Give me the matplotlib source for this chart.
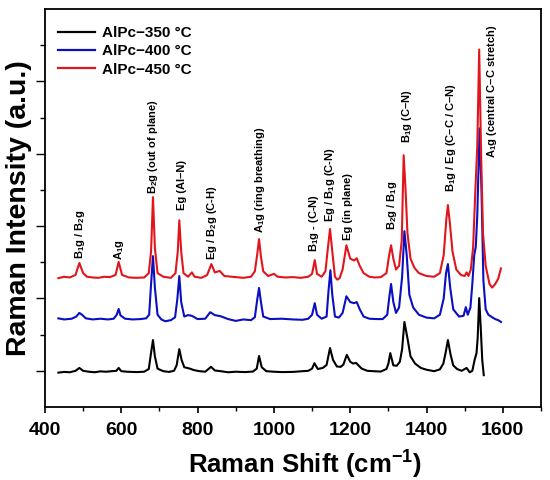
import matplotlib
matplotlib.use("Agg")
import matplotlib.pyplot as plt
from matplotlib.ticker import MultipleLocator, FixedLocator

plt.rcParams['font.family'] = ['Liberation Sans', 'DejaVu Sans']
plt.rcParams['font.weight'] = 'bold'
plt.rcParams['mathtext.fontset'] = 'custom'
plt.rcParams['mathtext.rm'] = 'Liberation Sans:bold'
plt.rcParams['mathtext.bf'] = 'Liberation Sans:bold'
plt.rcParams['mathtext.it'] = 'Liberation Sans:bold'
plt.rcParams['mathtext.sf'] = 'Liberation Sans:bold'
plt.rcParams['mathtext.default'] = 'rm'

# ---------------- data ----------------
series_labels = ['AlPc\u2212350 °C', 'AlPc\u2212400 °C', 'AlPc\u2212450 °C']
series_colors = ['#000000', '#0a0fc0', '#e0161c']

shift_350 = [435, 450, 465, 480, 490, 500, 515, 530, 545, 560, 575, 587, 593, 600, 615, 640, 660,
             672, 678, 683, 688, 695, 710, 725, 738, 745, 752, 758, 765, 780, 790, 805, 820, 835,
             845, 860, 880, 900, 925, 945, 955, 961, 968, 980, 1000, 1020, 1050, 1075, 1090, 1100,
             1106, 1115, 1128, 1138, 1147, 1155, 1165, 1175, 1182, 1191, 1200, 1208, 1215, 1230,
             1245, 1260, 1280, 1295, 1300, 1305, 1313, 1322, 1330, 1336, 1342, 1350, 1358, 1370,
             1385, 1400, 1420, 1435, 1444, 1450, 1456, 1463, 1470, 1480, 1492, 1505, 1513, 1520,
             1526, 1531, 1534, 1538, 1542, 1546, 1550]
int_350 = [950, 970, 960, 1000, 1080, 1000, 975, 960, 985, 975, 990, 1000, 1080, 990, 975, 965, 975,
           1050, 1500, 1850, 1400, 1060, 990, 970, 1000, 1150, 1600, 1300, 1100, 1060, 1020, 990, 975, 1110,
           1010, 990, 960, 975, 965, 980, 1060, 1410, 1100, 990, 975, 965, 970, 990, 1000, 1060,
           1210, 1050, 1080, 1160, 1630, 1300, 1120, 1110, 1170, 1440, 1250, 1200, 1220, 1060,
           1000, 990, 980, 1050, 1200, 1490, 1150, 1140, 1250, 1600, 2350, 1900, 1400, 1200,
           1080, 1030, 990, 1040, 1200, 1500, 1850, 1450, 1150, 1050, 1000, 1080, 960, 1000,
           1300, 1490, 1900, 3010, 2200, 1300, 880]

shift_400 = [435, 450, 470, 482, 490, 497, 507, 525, 545, 565, 580, 588, 593, 598, 610, 630, 650,
             665, 673, 678, 683, 688, 695, 705, 715, 730, 741, 747, 752, 757, 765, 775, 785, 800,
             820, 833, 845, 860, 880, 900, 920, 940, 950, 956, 961, 966, 972, 990, 1020, 1050,
             1075, 1090, 1100, 1107, 1113, 1125, 1138, 1143, 1148, 1153, 1160, 1170, 1180, 1190,
             1200, 1210, 1217, 1225, 1235, 1250, 1270, 1285, 1297, 1302, 1307, 1313, 1320, 1328,
             1336, 1342, 1348, 1355, 1365, 1380, 1400, 1420, 1435, 1445, 1451, 1456, 1462, 1470,
             1485, 1497, 1503, 1508, 1515, 1520, 1525, 1529, 1533, 1539, 1544, 1549, 1555, 1562,
             1572, 1580, 1588, 1595]
int_400 = [2450, 2420, 2440, 2500, 2600, 2550, 2450, 2420, 2440, 2420, 2440, 2550, 2710, 2530, 2440, 2420, 2430,
           2450, 2550, 3400, 4170, 3300, 2550, 2420, 2370, 2400, 2480, 3000, 3620, 2900, 2500, 2540, 2520, 2430,
           2440, 2620, 2540, 2510, 2430, 2380, 2420, 2400, 2480, 2950, 3290, 2900, 2500, 2430, 2440, 2420,
           2410, 2440, 2550, 2870, 2550, 2440, 2500, 3200, 3780, 3100, 2500, 2470, 2600, 3060,
           2900, 2870, 2900, 2700, 2500, 2440, 2430, 2430, 2550, 3000, 3400, 2900, 2600, 2750,
           3600, 4860, 4200, 3100, 2750, 2550, 2470, 2450, 2550, 3000, 3700, 3950, 3300, 2700,
           2500, 2520, 2760, 2550, 2750, 3400, 4200, 4420, 5300, 7700, 6000, 3500, 2700, 2550,
           2480, 2430, 2400, 2350]

shift_450 = [435, 450, 465, 480, 490, 500, 510, 525, 540, 555, 570, 585, 593, 602, 620, 640, 660,
             672, 678, 683, 688, 695, 710, 730, 742, 748, 752, 757, 763, 775, 785, 792, 810, 825,
             836, 845, 858, 870, 900, 920, 940, 950, 956, 961, 966, 972, 985, 1000, 1010, 1030,
             1050, 1070, 1090, 1100, 1107, 1113, 1125, 1135, 1141, 1147, 1153, 1160, 1166, 1172,
             1180, 1190, 1200, 1210, 1217, 1225, 1235, 1250, 1265, 1280, 1295, 1302, 1307, 1313,
             1320, 1328, 1335, 1340, 1345, 1350, 1358, 1368, 1380, 1400, 1420, 1435, 1445, 1452,
             1456, 1461, 1468, 1478, 1490, 1500, 1505, 1510, 1516, 1522, 1528, 1533, 1538, 1543,
             1548, 1555, 1565, 1572, 1580, 1588, 1595]
int_450 = [3560, 3600, 3580, 3650, 3980, 3700, 3600, 3580, 3570, 3600, 3590, 3650, 4010, 3650, 3580, 3570, 3580,
           3700, 4300, 5800, 4400, 3700, 3600, 3570, 3700, 4300, 5160, 4300, 3700, 3600, 3720, 3600, 3570, 3650,
           3950, 3720, 3760, 3620, 3590, 3570, 3600, 3750, 4200, 4640, 4150, 3750, 3620, 3680, 3600, 3580,
           3590, 3570, 3600, 3680, 4060, 3680, 3600, 3750, 4350, 4920, 4300, 3600, 3520, 3560,
           3800, 4470, 4100, 4050, 4110, 3900, 3700, 3600, 3580, 3590, 3700, 4200, 4470, 4100,
           3800, 3900, 4600, 6960, 6000, 4800, 4100, 3850, 3700, 3620, 3600, 3700, 4200, 5200,
           5580, 5100, 4300, 3800, 3650, 3620, 3720, 3620, 3800, 4400, 6000, 7200, 9880, 7000,
           4800, 3900, 3400, 3300, 3400, 3550, 3830]

peak_labels = ['B$_1$g / B$_2$g', 'A$_1$g', 'B$_2$g (out of plane)', 'Eg (Al\u2013N)',
               'Eg / B$_2$g (C-H)', 'A$_1$g (ring breathing)', 'B$_1$g - (C-N)',
               'Eg / B$_1$g (C-N)', 'Eg (in plane)', 'B$_2$g / B$_1$g', 'B$_1$g (C\u2013N)',
               'B$_1$g / Eg (C\u2013C / C\u2013N)', 'A$_1$g (central C\u2013C stretch)']
peak_label_x = [492, 593, 684, 758, 839, 963, 1105, 1147, 1195, 1310, 1350, 1463, 1572]
peak_label_y = [4100, 4060, 5900, 5440, 4060, 4800, 4280, 5100, 4610, 4880, 7310, 5930, 6870]

x_major = [400, 600, 800, 1000, 1200, 1400, 1600]

# ---------------- figure ----------------
fig = plt.figure(figsize=(5.5, 4.8), dpi=100)
ax = fig.add_axes([45 / 550, 1 - 407 / 480, 496 / 550, 398 / 480])

xs = [shift_350, shift_400, shift_450]
ys = [int_350, int_400, int_450]
for x, y, c, lab in zip(xs, ys, series_colors, series_labels):
    ax.plot(x, y, color=c, lw=1.5, label=lab)

for t, px, py in zip(peak_labels, peak_label_x, peak_label_y):
    ax.text(px, py, t, rotation=90, ha='center', va='bottom', fontsize=8, fontweight='bold')

ax.set_xlim(400, 1700)
ax.set_ylim(0, 11000)
ax.xaxis.set_major_locator(FixedLocator(x_major))
ax.xaxis.set_minor_locator(MultipleLocator(100))
ax.yaxis.set_major_locator(FixedLocator([1000, 3000, 5000, 7000, 9000]))
ax.yaxis.set_minor_locator(FixedLocator([2000, 4000, 6000, 8000, 10000]))
ax.set_yticklabels([])
ax.tick_params(axis='x', which='major', direction='out', length=4.5, width=1.2, labelsize=14, pad=6)
ax.tick_params(axis='x', which='minor', direction='out', length=3, width=1.0)
ax.tick_params(axis='y', which='major', direction='out', length=6.5, width=1.0)
ax.tick_params(axis='y', which='minor', direction='out', length=3.5, width=1.0)
for lbl in ax.get_xticklabels():
    lbl.set_fontweight('bold')
for s in ax.spines.values():
    s.set_linewidth(1.3)

ax.set_xlabel('Raman Shift (cm$^{\u22121}$)', fontsize=18.5, fontweight='bold')
ax.set_ylabel('Raman Intensity (a.u.)', fontsize=20.5, fontweight='bold')
ax.xaxis.set_label_coords(0.525, -0.105)
ax.yaxis.set_label_coords(-0.027, 0.5)

leg = ax.legend(loc='upper left', bbox_to_anchor=(0.026, 0.957), frameon=False,
                prop={'size': 11, 'weight': 'bold'}, handlelength=2.4, handletextpad=0.5,
                labelspacing=0.28, borderpad=0, borderaxespad=0)
for h in leg.get_lines():
    h.set_linewidth(1.6)

fig.savefig('out.png', dpi=100)
